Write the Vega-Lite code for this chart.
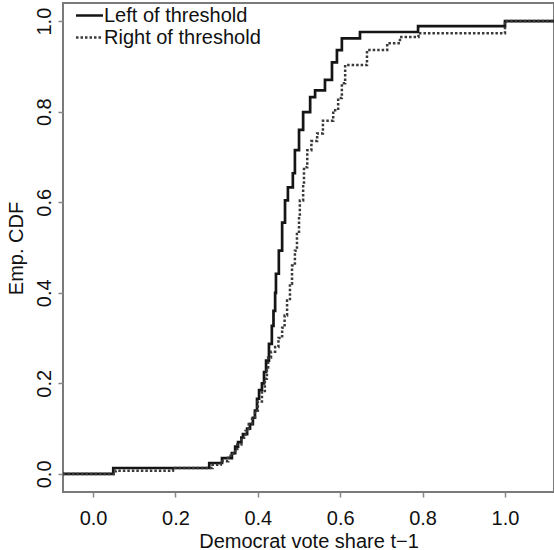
{
  "$schema": "https://vega.github.io/schema/vega-lite/v6.json",
  "width": 491,
  "height": 489,
  "autosize": {"type": "none"},
  "padding": {"left": 63, "top": 3, "right": 0, "bottom": 58},
  "background": "white",
  "config": {
    "view": {"stroke": "#7a7a7a", "strokeWidth": 2},
    "font": "Liberation Sans",
    "axis": {"grid": false, "domain": false, "tickColor": "#888888", "tickWidth": 1.5, "tickSize": 5,
             "labelFont": "Liberation Sans", "labelFontSize": 20, "labelColor": "#111111",
             "titleFont": "Liberation Sans", "titleFontSize": 20, "titleColor": "#111111", "titleFontWeight": "normal"}
  },
  "data": {"values": [
    {"g": "Left of threshold", "x": -0.073, "y": 0},
    {"g": "Left of threshold", "x": 0.049, "y": 0.013},
    {"g": "Left of threshold", "x": 0.282, "y": 0.024},
    {"g": "Left of threshold", "x": 0.313, "y": 0.035},
    {"g": "Left of threshold", "x": 0.337, "y": 0.046},
    {"g": "Left of threshold", "x": 0.345, "y": 0.06},
    {"g": "Left of threshold", "x": 0.352, "y": 0.07},
    {"g": "Left of threshold", "x": 0.36, "y": 0.08},
    {"g": "Left of threshold", "x": 0.364, "y": 0.088},
    {"g": "Left of threshold", "x": 0.374, "y": 0.1},
    {"g": "Left of threshold", "x": 0.381, "y": 0.11},
    {"g": "Left of threshold", "x": 0.388, "y": 0.124},
    {"g": "Left of threshold", "x": 0.393, "y": 0.14},
    {"g": "Left of threshold", "x": 0.398, "y": 0.166},
    {"g": "Left of threshold", "x": 0.403, "y": 0.185},
    {"g": "Left of threshold", "x": 0.41, "y": 0.2},
    {"g": "Left of threshold", "x": 0.415, "y": 0.225},
    {"g": "Left of threshold", "x": 0.42, "y": 0.25},
    {"g": "Left of threshold", "x": 0.427, "y": 0.287},
    {"g": "Left of threshold", "x": 0.434, "y": 0.327},
    {"g": "Left of threshold", "x": 0.438, "y": 0.36},
    {"g": "Left of threshold", "x": 0.442, "y": 0.4},
    {"g": "Left of threshold", "x": 0.444, "y": 0.442},
    {"g": "Left of threshold", "x": 0.451, "y": 0.493},
    {"g": "Left of threshold", "x": 0.459, "y": 0.555},
    {"g": "Left of threshold", "x": 0.466, "y": 0.604},
    {"g": "Left of threshold", "x": 0.473, "y": 0.633},
    {"g": "Left of threshold", "x": 0.485, "y": 0.664},
    {"g": "Left of threshold", "x": 0.49, "y": 0.715},
    {"g": "Left of threshold", "x": 0.5, "y": 0.76},
    {"g": "Left of threshold", "x": 0.51, "y": 0.799},
    {"g": "Left of threshold", "x": 0.527, "y": 0.832},
    {"g": "Left of threshold", "x": 0.539, "y": 0.847},
    {"g": "Left of threshold", "x": 0.563, "y": 0.87},
    {"g": "Left of threshold", "x": 0.58, "y": 0.909},
    {"g": "Left of threshold", "x": 0.592, "y": 0.936},
    {"g": "Left of threshold", "x": 0.604, "y": 0.962},
    {"g": "Left of threshold", "x": 0.648, "y": 0.976},
    {"g": "Left of threshold", "x": 0.789, "y": 0.989},
    {"g": "Left of threshold", "x": 1.0, "y": 1.0},
    {"g": "Left of threshold", "x": 1.119, "y": 1.0},
    {"g": "Right of threshold", "x": -0.073, "y": 0},
    {"g": "Right of threshold", "x": 0.055, "y": 0.007},
    {"g": "Right of threshold", "x": 0.194, "y": 0.013},
    {"g": "Right of threshold", "x": 0.29, "y": 0.02},
    {"g": "Right of threshold", "x": 0.31, "y": 0.028},
    {"g": "Right of threshold", "x": 0.328, "y": 0.04},
    {"g": "Right of threshold", "x": 0.34, "y": 0.05},
    {"g": "Right of threshold", "x": 0.35, "y": 0.065},
    {"g": "Right of threshold", "x": 0.36, "y": 0.08},
    {"g": "Right of threshold", "x": 0.37, "y": 0.095},
    {"g": "Right of threshold", "x": 0.378, "y": 0.11},
    {"g": "Right of threshold", "x": 0.386, "y": 0.125},
    {"g": "Right of threshold", "x": 0.393, "y": 0.14},
    {"g": "Right of threshold", "x": 0.4, "y": 0.16},
    {"g": "Right of threshold", "x": 0.41, "y": 0.18},
    {"g": "Right of threshold", "x": 0.417, "y": 0.21},
    {"g": "Right of threshold", "x": 0.422, "y": 0.235},
    {"g": "Right of threshold", "x": 0.425, "y": 0.257},
    {"g": "Right of threshold", "x": 0.432, "y": 0.27},
    {"g": "Right of threshold", "x": 0.442, "y": 0.28},
    {"g": "Right of threshold", "x": 0.45, "y": 0.3},
    {"g": "Right of threshold", "x": 0.459, "y": 0.323},
    {"g": "Right of threshold", "x": 0.465, "y": 0.35},
    {"g": "Right of threshold", "x": 0.471, "y": 0.383},
    {"g": "Right of threshold", "x": 0.478, "y": 0.42},
    {"g": "Right of threshold", "x": 0.483, "y": 0.46},
    {"g": "Right of threshold", "x": 0.49, "y": 0.493},
    {"g": "Right of threshold", "x": 0.495, "y": 0.53},
    {"g": "Right of threshold", "x": 0.5, "y": 0.57},
    {"g": "Right of threshold", "x": 0.502, "y": 0.604},
    {"g": "Right of threshold", "x": 0.51, "y": 0.64},
    {"g": "Right of threshold", "x": 0.512, "y": 0.677},
    {"g": "Right of threshold", "x": 0.52, "y": 0.715},
    {"g": "Right of threshold", "x": 0.53, "y": 0.735},
    {"g": "Right of threshold", "x": 0.544, "y": 0.752},
    {"g": "Right of threshold", "x": 0.558, "y": 0.78},
    {"g": "Right of threshold", "x": 0.583, "y": 0.803},
    {"g": "Right of threshold", "x": 0.595, "y": 0.83},
    {"g": "Right of threshold", "x": 0.604, "y": 0.863},
    {"g": "Right of threshold", "x": 0.612, "y": 0.903},
    {"g": "Right of threshold", "x": 0.665, "y": 0.936},
    {"g": "Right of threshold", "x": 0.714, "y": 0.951},
    {"g": "Right of threshold", "x": 0.745, "y": 0.965},
    {"g": "Right of threshold", "x": 0.79, "y": 0.973},
    {"g": "Right of threshold", "x": 1.0, "y": 1.0},
    {"g": "Right of threshold", "x": 1.119, "y": 1.0}
  ]},
  "mark": {"type": "line", "interpolate": "step-after", "clip": true},
  "encoding": {
    "x": {"field": "x", "type": "quantitative",
          "scale": {"domain": [-0.073, 1.119], "nice": false, "zero": false},
          "axis": {"values": [0, 0.2, 0.4, 0.6, 0.8, 1.0], "format": ".1f", "labelPadding": 11,
                   "title": "Democrat vote share t\u22121", "titleY": 55, "titleBaseline": "alphabetic"}},
    "y": {"field": "y", "type": "quantitative",
          "scale": {"domain": [-0.04, 1.04], "nice": false, "zero": false},
          "axis": {"values": [0, 0.2, 0.4, 0.6, 0.8, 1.0], "format": ".1f", "labelAngle": -90, "labelAlign": "center",
                   "labelBaseline": "alphabetic", "labelPadding": 8,
                   "title": "Emp. CDF", "titleAngle": -90, "titleX": -41, "titleY": 245, "titleBaseline": "alphabetic", "titleAlign": "center"}},
    "color": {"field": "g", "type": "nominal", "title": null,
              "scale": {"domain": ["Left of threshold", "Right of threshold"], "range": ["#151515", "#3a3a3a"]},
              "legend": {"orient": "none", "legendX": 15, "legendY": 1, "symbolType": "M-1.35,0L1.35,0", "symbolSize": 400,
                         "symbolStrokeWidth": 2.4, "symbolFillColor": "transparent", "labelFontSize": 20, "labelFont": "Liberation Sans", "labelColor": "#111111",
                         "labelOffset": 3, "rowPadding": 0, "padding": 0}},
    "strokeDash": {"field": "g", "type": "nominal", "title": null,
                   "scale": {"domain": ["Left of threshold", "Right of threshold"], "range": [[1, 0], [2.5, 2]]}},
    "strokeWidth": {"field": "g", "type": "nominal", "legend": null,
                    "scale": {"domain": ["Left of threshold", "Right of threshold"], "range": [2.7, 2.5]}}
  }
}
